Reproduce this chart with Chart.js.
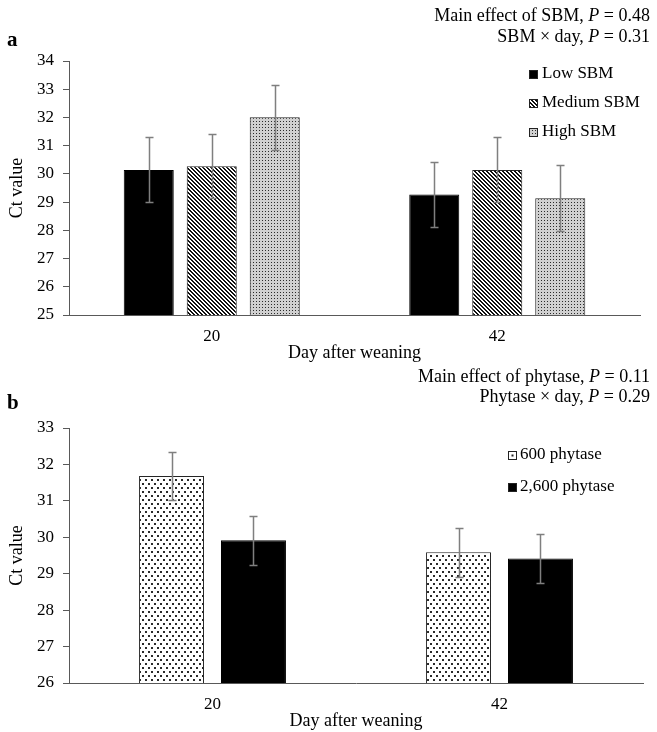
<!DOCTYPE html>
<html><head><meta charset="utf-8">
<script src="https://cdn.jsdelivr.net/npm/chart.js@4.4.0/dist/chart.umd.min.js"></script>
<style>
html,body{margin:0;padding:0;background:#fff;}
#wrap{position:relative;width:657px;height:732px;}
.box{position:absolute;left:0;width:657px;height:366px;}
canvas{display:block;}
</style></head><body>
<div id="wrap">
<div class="box" style="top:0"><canvas id="ca" width="657" height="366"></canvas></div>
<div class="box" style="top:366px"><canvas id="cb" width="657" height="366"></canvas></div>
</div>
<script>
// ---- data ----
const days = ['20', '42'];
const sbmNames = ['Low SBM', 'Medium SBM', 'High SBM'];
const lowSBM = [30.14, 29.27];
const mediumSBM = [30.27, 30.14];
const highSBM = [32.01, 29.14];
const lowSBMse = [1.15, 1.16];
const mediumSBMse = [1.14, 1.15];
const highSBMse = [1.15, 1.16];
const phyNames = ['600 phytase', '2,600 phytase'];
const phy600 = [31.68, 29.59];
const phy2600 = [29.92, 29.42];
const phy600se = [0.67, 0.67];
const phy2600se = [0.67, 0.67];
const yRangeA = [25, 34];
const yRangeB = [26, 33];
const notesA = [[['Main effect of SBM, ', false], ['P', true], [' = 0.48', false]], [['SBM \u00d7 day, ', false], ['P', true], [' = 0.31', false]]];
const notesB = [[['Main effect of phytase, ', false], ['P', true], [' = 0.11', false]], [['Phytase \u00d7 day, ', false], ['P', true], [' = 0.29', false]]];

const FONT = 'Liberation Serif, Times New Roman, serif';
const fnt = {family: FONT, size: 17};
const titleFnt = {family: FONT, size: 18};

// ---- patterns ----
function makePattern(w, h, bg, fg, pix) {
  const c = document.createElement('canvas'); c.width = w; c.height = h;
  const g = c.getContext('2d');
  g.fillStyle = bg; g.fillRect(0, 0, w, h);
  g.fillStyle = fg;
  pix.forEach(p => g.fillRect(p[0], p[1], p[2] || 1, p[3] || 1));
  return g.createPattern(c, 'repeat');
}
const hatch = makePattern(4, 4, '#fff', '#111', [[0,0],[1,1],[2,2],[3,3],[0,1],[1,2],[2,3],[3,0]]);
const fineDots = makePattern(3, 3, '#d0d0d0', '#2a2a2a', [[1,1]]);
const sparseDots = makePattern(6, 8, '#fff', '#2a2a2a', [[1,1,2,2],[4,5,2,2]]);

// ---- plugins ----
const errorBars = {
  id: 'errorBars',
  afterDatasetsDraw(chart) {
    const ctx = chart.ctx, y = chart.scales.y;
    chart.data.datasets.forEach((ds, i) => {
      chart.getDatasetMeta(i).data.forEach((bar, j) => {
        const v = ds.data[j], e = ds.errors[j];
        const yt = Math.round(y.getPixelForValue(v + e)) + 0.5;
        const yb = Math.round(y.getPixelForValue(v - e)) + 0.5;
        const x = Math.round(bar.x) + 0.5;
        ctx.save();
        ctx.strokeStyle = '#7f7f7f'; ctx.lineWidth = 1.5;
        ctx.beginPath();
        ctx.moveTo(x, yt); ctx.lineTo(x, yb);
        ctx.moveTo(x - 4, yt); ctx.lineTo(x + 4, yt);
        ctx.moveTo(x - 4, yb); ctx.lineTo(x + 4, yb);
        ctx.stroke(); ctx.restore();
      });
    });
  }
};
const boxLegend = {
  id: 'boxLegend',
  afterDraw(chart, args, o) {
    const ctx = chart.ctx;
    ctx.save();
    ctx.font = '17px ' + FONT; ctx.textBaseline = 'middle'; ctx.fillStyle = '#000';
    chart.data.datasets.forEach((ds, i) => {
      const yc = o.ys[i], s = o.size;
      const x0 = o.x, y0 = Math.round(yc - s / 2);
      ctx.fillStyle = (o.dotCenter && o.dotCenter[i]) ? '#fff' : ds.backgroundColor;
      ctx.fillRect(x0, y0, s, s);
      if (o.dotCenter && o.dotCenter[i]) { ctx.fillStyle = '#222'; ctx.fillRect(x0 + s/2 - 1, y0 + s/2 - 1, 2, 2); }
      ctx.strokeStyle = '#222'; ctx.lineWidth = 1;
      ctx.strokeRect(x0 + 0.5, y0 + 0.5, s - 1, s - 1);
      ctx.fillStyle = '#000';
      ctx.fillText(ds.label, o.textX, yc);
    });
    ctx.restore();
  }
};
const notes = {
  id: 'notes',
  afterDraw(chart, args, o) {
    const ctx = chart.ctx;
    ctx.save(); ctx.textBaseline = 'middle'; ctx.fillStyle = '#000';
    o.lines.forEach((segs, k) => {
      let w = 0;
      segs.forEach(s => { ctx.font = (s[1] ? 'italic ' : '') + '18px ' + FONT; w += ctx.measureText(s[0]).width; });
      let x = o.right - w;
      segs.forEach(s => { ctx.font = (s[1] ? 'italic ' : '') + '18px ' + FONT; ctx.fillText(s[0], x, o.ys[k]); x += ctx.measureText(s[0]).width; });
    });
    ctx.font = 'bold 21px ' + FONT;
    ctx.fillText(o.letter, o.letterX, o.letterY);
    ctx.restore();
  }
};

function makeOptions(range, padTop, padRight, xHeight, titlePadBottom, legendOpts, noteOpts, catPct, barPct) {
  return {
    responsive: false, animation: false, devicePixelRatio: 1,
    layout: {padding: {left: 0, right: padRight, top: padTop, bottom: 0}},
    datasets: {bar: {categoryPercentage: catPct, barPercentage: barPct}},
    plugins: {legend: {display: false}, tooltip: {enabled: false}, boxLegend: legendOpts, notes: noteOpts},
    scales: {
      x: {
        grid: {display: false, drawTicks: false},
        border: {display: true, color: '#595959', width: 1},
        ticks: {font: fnt, color: '#000', padding: 11},
        title: {display: true, text: 'Day after weaning', font: titleFnt, color: '#000', padding: {top: 0, bottom: titlePadBottom}},
        afterFit(s) { s.height = xHeight; }
      },
      y: {
        min: range[0], max: range[1],
        ticks: {stepSize: 1, font: fnt, color: '#000', padding: 9},
        grid: {display: true, drawOnChartArea: false, drawTicks: true, tickLength: 6, color: '#595959'},
        border: {display: true, color: '#595959', width: 1},
        title: {display: true, text: 'Ct value', font: titleFnt, color: '#000', padding: {top: 6, bottom: 0}},
        afterFit(s) { s.width = 69; }
      }
    }
  };
}

new Chart(document.getElementById('ca'), {
  type: 'bar',
  data: {labels: days, datasets: [
    {label: sbmNames[0], data: lowSBM, errors: lowSBMse, backgroundColor: '#000', borderColor: '#000', borderWidth: 1},
    {label: sbmNames[1], data: mediumSBM, errors: mediumSBMse, backgroundColor: hatch, borderColor: '#262626', borderWidth: 1},
    {label: sbmNames[2], data: highSBM, errors: highSBMse, backgroundColor: fineDots, borderColor: '#262626', borderWidth: 1}
  ]},
  options: makeOptions(yRangeA, 61, 17, 51, 2,
    {x: 529, textX: 542, ys: [74, 103, 132], size: 9},
    {lines: notesA, right: 650, ys: [16, 37], letter: 'a', letterX: 7, letterY: 41},
    0.662, 0.794),
  plugins: [errorBars, boxLegend, notes]
});

new Chart(document.getElementById('cb'), {
  type: 'bar',
  data: {labels: days, datasets: [
    {label: phyNames[0], data: phy600, errors: phy600se, backgroundColor: sparseDots, borderColor: '#262626', borderWidth: 1},
    {label: phyNames[1], data: phy2600, errors: phy2600se, backgroundColor: '#000', borderColor: '#000', borderWidth: 1}
  ]},
  options: makeOptions(yRangeB, 62, 14, 49, 0,
    {x: 508, textX: 520, ys: [89, 121], size: 9, dotCenter: [true, false]},
    {lines: notesB, right: 650, ys: [11, 31], letter: 'b', letterX: 7, letterY: 38},
    0.571, 0.793),
  plugins: [errorBars, boxLegend, notes]
});
</script>
</body></html>
